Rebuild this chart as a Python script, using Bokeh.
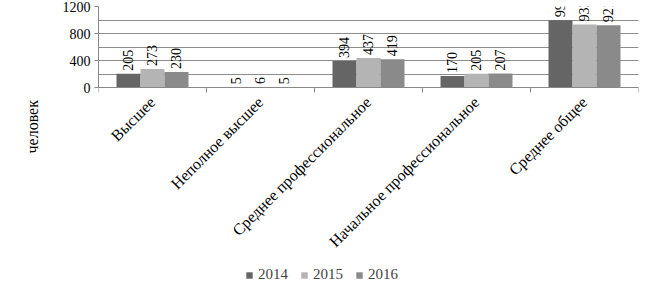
import math
from bokeh.plotting import figure
from bokeh.models import (ColumnDataSource, FixedTicker, Legend, LegendItem,
                          LabelSet, Title, Range1d)
from bokeh.embed import file_html
from bokeh.resources import INLINE

categories = ["Высшее", "Неполное высшее", "Среднее профессиональное",
              "Начальное профессиональное", "Среднее общее"]
years = ["2014", "2015", "2016"]
v2014 = [205, 5, 394, 170, 997]
v2015 = [273, 6, 437, 205, 933]
v2016 = [230, 5, 419, 207, 921]
colors = ["#656565", "#b4b4b4", "#8a8a8a"]
y_ticks = [0, 400, 800, 1200]
y_label = "человек"

FONT = "Liberation Serif"

# frame spans the whole canvas height below the top border; the value axis
# occupies its upper 81 px, the space below holds category labels + legend
Y_MAX = 1200
PX_PLOT = 81.0
PX_BELOW = 199.0
y_min = -PX_BELOW * Y_MAX / PX_PLOT

p = figure(width=651, height=286, output_backend="svg",
           toolbar_location=None, x_range=Range1d(0, len(categories)),
           y_range=Range1d(y_min, Y_MAX), min_border_left=98,
           min_border_right=13, min_border_top=6, min_border_bottom=0)
p.outline_line_color = None
p.background_fill_color = "white"

bar_w = 2.0 / 9.0
series = [v2014, v2015, v2016]
renderers = []
for k, (vals, col) in enumerate(zip(series, colors)):
    xs = [i + 0.5 + (k - 1) * bar_w for i in range(len(categories))]
    src = ColumnDataSource(dict(x=xs, top=vals, lab=[str(v) for v in vals]))
    r = p.vbar(x="x", top="top", bottom=0, width=bar_w, source=src,
               fill_color=col, line_color=None)
    renderers.append(r)
    ls = LabelSet(x="x", y="top", text="lab", source=src, angle=math.pi / 2,
                  text_align="left", text_baseline="middle", y_offset=3,
                  text_font=FONT, text_font_size="14px", text_color="#000000")
    p.add_layout(ls)

# y axis
p.yaxis.ticker = FixedTicker(ticks=y_ticks, minor_ticks=[200, 600, 1000])
p.yaxis.bounds = (0, Y_MAX)
p.yaxis.major_label_text_font = FONT
p.yaxis.major_label_text_font_size = "14px"
p.yaxis.major_label_text_color = "#000000"
p.yaxis.axis_line_color = "#888888"
p.yaxis.major_tick_line_color = "#888888"
p.yaxis.major_tick_in = 0
p.yaxis.major_tick_out = 4
p.yaxis.minor_tick_line_color = None
p.yaxis.major_label_standoff = 4

p.ygrid.grid_line_color = "#8c8c8c"
p.ygrid.minor_grid_line_color = "#8c8c8c"
p.xgrid.grid_line_color = None

# x axis (category axis sits at value 0)
centers = [i + 0.5 for i in range(len(categories))]
p.xaxis.fixed_location = 0
p.xaxis.ticker = FixedTicker(ticks=centers,
                             minor_ticks=list(range(len(categories) + 1)))
p.xaxis.major_label_overrides = {c: name for c, name in zip(centers, categories)}
p.xaxis.major_label_orientation = math.pi / 4
p.xaxis.major_label_text_font = FONT
p.xaxis.major_label_text_font_size = "16px"
p.xaxis.major_label_text_color = "#000000"
p.xaxis.axis_line_color = "#888888"
p.xaxis.major_tick_line_color = None
p.xaxis.minor_tick_line_color = "#888888"
p.xaxis.minor_tick_in = 0
p.xaxis.minor_tick_out = 5
p.xaxis.major_label_standoff = 6

legend = Legend(items=[LegendItem(label=y, renderers=[r]) for y, r in zip(years, renderers)],
                orientation="horizontal", location=(147, 3))
legend.label_text_font = FONT
legend.label_text_font_size = "15px"
legend.glyph_width = 8
legend.glyph_height = 8
legend.label_standoff = 5
legend.spacing = 12
legend.padding = 2
legend.margin = 0
legend.border_line_color = None
legend.background_fill_alpha = 0
p.add_layout(legend, "center")

ytitle = Title(text=y_label, align="left", offset=133, text_font=FONT,
               text_font_size="16px", text_font_style="normal",
               text_color="#000000", standoff=38)
p.add_layout(ytitle, "left")

open("out.html", "w").write(file_html(p, INLINE))
